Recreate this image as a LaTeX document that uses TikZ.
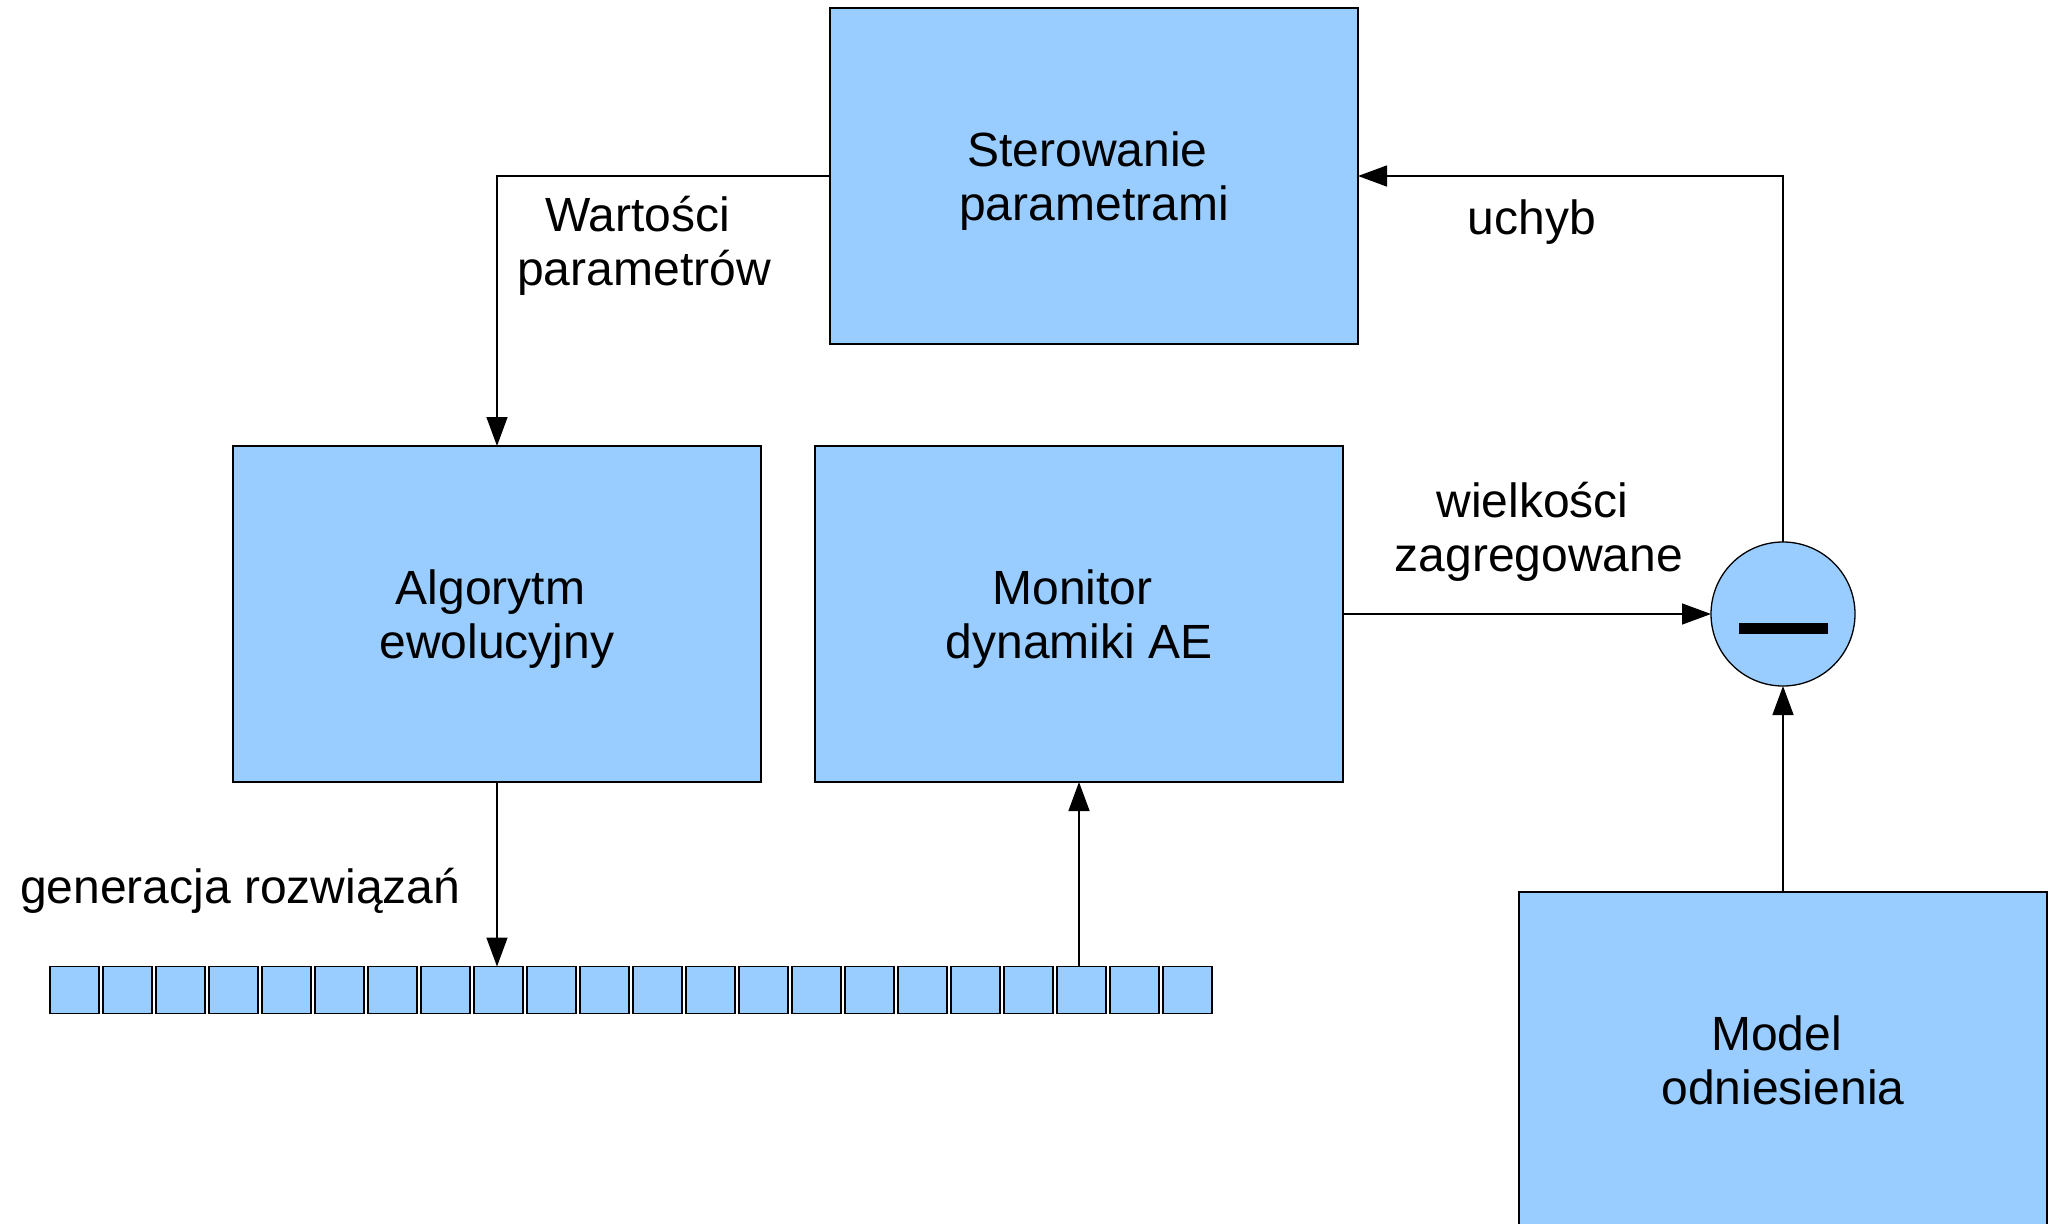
\documentclass[tikz,border=0pt]{standalone}
\usepackage{fontspec}
\setmainfont{Liberation Sans}
\usetikzlibrary{arrows.meta}
\definecolor{boxblue}{RGB}{153,204,255}
\tikzset{
  box/.style={draw=black, fill=boxblue, line width=1.3pt, inner sep=0pt, outer sep=0pt},
  cell/.style={draw=black, fill=boxblue, line width=1.3pt, inner sep=0pt, outer sep=0pt, minimum width=49pt, minimum height=47pt},
  sumcirc/.style={circle, draw=black, fill=boxblue, line width=1.3pt, inner sep=0pt, outer sep=0pt, minimum size=144pt},
  arr/.style={line width=1.4pt, -{Triangle[length=29pt,width=21pt]}},
  lbl/.style={align=center, inner sep=0pt, font=\fontsize{48}{54}\selectfont}
}
\newcommand{\trsp}{\kern13pt}
\begin{document}
\begin{tikzpicture}[x=1pt,y=-1pt]
\useasboundingbox (0,0) rectangle (2057,1224);
\clip (0,0) rectangle (2057,1224);
\fill[white] (0,0) rectangle (2057,1224);
\node[box, minimum width=528pt, minimum height=336pt] (ster) at (1094,176) {};
\node[box, minimum width=528pt, minimum height=336pt] (algo) at (497,614) {};
\node[box, minimum width=528pt, minimum height=336pt] (mon) at (1079,614) {};
\node[box, minimum width=528pt, minimum height=338pt] (model) at (1783,1061) {};
\node[lbl] (tster) at ([yshift=-5pt]ster.center) {Sterowanie\trsp\\parametrami};
\node[lbl] (talgo) at ([yshift=-5pt]algo.center) {Algorytm\trsp\\ewolucyjny};
\node[lbl] (tmon) at ([yshift=-5pt]mon.center) {Monitor\trsp\\dynamiki AE};
\node[lbl] (tmodel) at ([yshift=1pt]model.center) {Model\trsp\\odniesienia};
\node[sumcirc] (circ) at (1783,614) {};
\fill ([xshift=-44.5pt,yshift=-9pt]circ.center) rectangle ([xshift=44.5pt,yshift=-20pt]circ.center);
\foreach \i in {0,...,21} {
  \node[cell] (c\i) at (74.5+53*\i,990) {};
}
\draw[arr] (ster.west) -| (algo.north);
\draw[arr] (circ.north) |- (ster.east);
\draw[arr] (mon.east) -- (circ.west);
\draw[arr] (model.north) -- (circ.south);
\draw[arr] (algo.south) -- (algo.south |- c8.north);
\draw[arr] (mon.south |- c19.north) -- (mon.south);
\node[lbl] (lw) at (644,246) {Wartości\trsp\\parametrów};
\node[lbl] (lu) at (1532,222) {uchyb};
\node[lbl] (lz) at (1539,532) {wielkości\trsp\\zagregowane};
\node[lbl, anchor=west] (lg) at (20,891) {generacja rozwiązań};
\end{tikzpicture}
\end{document}
